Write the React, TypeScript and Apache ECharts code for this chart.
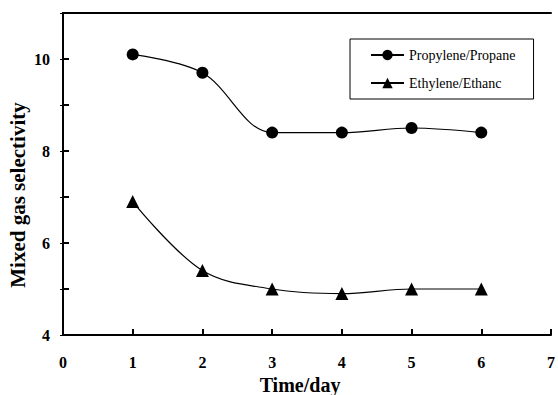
import React, { useEffect, useRef } from "react";
import * as echarts from "echarts";

const days = [1, 2, 3, 4, 5, 6];
const propylenePropane = [10.1, 9.7, 8.4, 8.4, 8.5, 8.4];
const ethyleneEthane = [6.9, 5.4, 5.0, 4.9, 5.0, 5.0];
const seriesNames = ["Propylene/Propane", "Ethylene/Ethanc"];
const xTitle = "Time/day";
const yTitle = "Mixed gas selectivity";

const SERIF = "Liberation Serif";

export default function App() {
  const ref = useRef<HTMLDivElement>(null);
  useEffect(() => {
    const chart = echarts.init(ref.current!, null, { renderer: "svg" });
    const axisLine = { show: true, lineStyle: { color: "#000", width: 2 } };
    chart.setOption({
      animation: false,
      backgroundColor: "#fff",
      grid: { left: 63, right: 4, top: 13, bottom: 60, containLabel: false },
      legend: {
        left: 350,
        top: 39,
        orient: "vertical",
        padding: [9, 18, 9, 20],
        itemGap: 14,
        itemWidth: 33,
        itemHeight: 13,
        borderColor: "#000",
        borderWidth: 1,
        backgroundColor: "#fff",
        textStyle: { fontFamily: SERIF, fontSize: 14, color: "#000" },
        data: seriesNames,
      },
      xAxis: [
        {
          type: "value",
          min: 0,
          max: 7,
          interval: 1,
          axisLine,
          axisTick: { show: true, inside: true, length: 6, lineStyle: { color: "#000", width: 2 } },
          splitLine: { show: false },
          axisLabel: { fontFamily: SERIF, fontWeight: "bold", fontSize: 16, color: "#000", margin: 19 },
        },
        {
          type: "value",
          position: "top",
          min: 0,
          max: 7,
          interval: 1,
          axisLine,
          axisTick: { show: false },
          splitLine: { show: false },
          axisLabel: { show: false },
        },
      ],
      yAxis: [
        {
          type: "value",
          min: 4,
          max: 11,
          interval: 2,
          axisLine,
          axisTick: { show: true, inside: true, length: 6, lineStyle: { color: "#000", width: 2 } },
          minorTick: { show: true, splitNumber: 2, length: 6, lineStyle: { color: "#000", width: 2 } },
          splitLine: { show: false },
          minorSplitLine: { show: false },
          axisLabel: { fontFamily: SERIF, fontWeight: "bold", fontSize: 16, color: "#000", margin: 13, showMaxLabel: false },
        },
        {
          type: "value",
          position: "right",
          min: 4,
          max: 11,
          interval: 1,
          axisLine,
          axisTick: { show: true, inside: true, length: 3, lineStyle: { color: "#000", width: 1 } },
          splitLine: { show: false },
          axisLabel: { show: false },
        },
      ],
      series: [
        {
          name: seriesNames[0],
          type: "line",
          smooth: 0.35,
          data: days.map((d, i) => [d, propylenePropane[i]]),
          symbol: "circle",
          symbolSize: 12,
          itemStyle: { color: "#000" },
          lineStyle: { color: "#000", width: 1.2 },
        },
        {
          name: seriesNames[1],
          type: "line",
          smooth: 0.35,
          data: days.map((d, i) => [d, ethyleneEthane[i]]),
          symbol: "triangle",
          symbolSize: 13,
          itemStyle: { color: "#000" },
          lineStyle: { color: "#000", width: 1.2 },
        },
      ],
      graphic: [
        {
          type: "text",
          x: 300,
          y: 385,
          style: {
            text: xTitle,
            fontFamily: SERIF,
            fontWeight: "bold",
            fontSize: 20,
            fill: "#000",
            align: "center",
            verticalAlign: "middle",
          },
        },
        {
          type: "text",
          x: 18,
          y: 195,
          rotation: Math.PI / 2,
          style: {
            text: yTitle,
            fontFamily: SERIF,
            fontWeight: "bold",
            fontSize: 21,
            fill: "#000",
            align: "center",
            verticalAlign: "middle",
          },
        },
      ],
    });
    return () => chart.dispose();
  }, []);
  return <div ref={ref} style={{ width: 558, height: 395, position: "absolute", left: 0, top: 0 }} />;
}
